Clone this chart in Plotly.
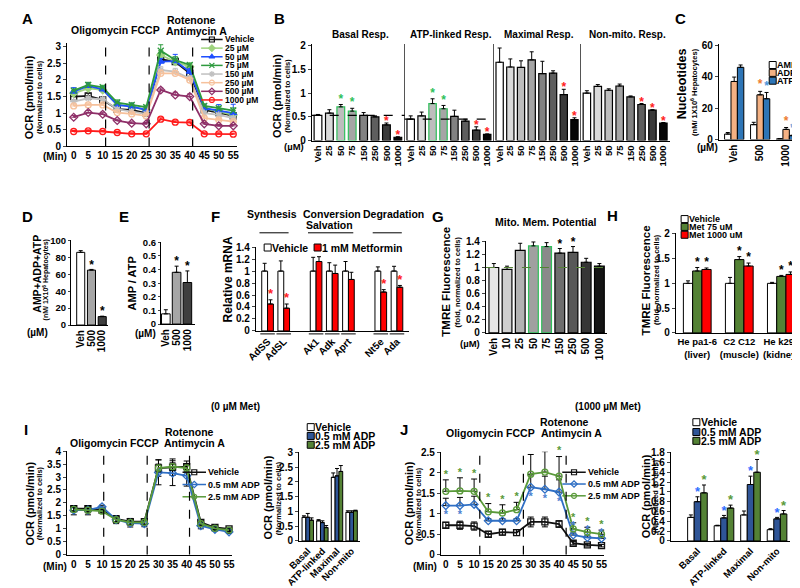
import plotly.graph_objects as go

W, H = 800, 588
FONT = "Liberation Sans, Arial, Helvetica, sans-serif"

# ======================= DATA =======================
# ---- Panel A: OCR time course, metformin doses ----
a_time = [0, 5, 10, 15, 20, 25, 30, 35, 40, 45, 50, 55]
a_injections = [11, 26, 41]
a_names = ["Vehicle", "25 µM", "50 µM", "75 µM", "150 µM", "250 µM", "500 µM", "1000 µM"]
a_vehicle = [1.50, 1.52, 1.40, 1.12, 1.10, 1.00, 2.62, 2.55, 2.20, 1.10, 1.02, 0.92]
a_25 = [1.60, 1.75, 1.70, 1.25, 1.20, 1.10, 2.75, 2.55, 2.40, 1.15, 1.05, 0.95]
a_50 = [1.65, 1.82, 1.72, 1.25, 1.20, 1.10, 2.55, 2.57, 2.25, 1.15, 1.08, 1.00]
a_75 = [1.68, 1.85, 1.78, 1.32, 1.25, 1.18, 2.88, 2.60, 2.45, 1.22, 1.15, 1.08]
a_150 = [1.35, 1.45, 1.42, 1.12, 1.05, 0.98, 2.30, 2.25, 2.05, 1.00, 0.95, 0.85]
a_250 = [1.22, 1.25, 1.25, 1.02, 0.98, 0.92, 2.20, 2.20, 2.00, 0.85, 0.80, 0.75]
a_500 = [0.88, 1.02, 0.97, 0.78, 0.70, 0.68, 1.70, 1.55, 1.50, 0.68, 0.62, 0.62]
a_1000 = [0.45, 0.47, 0.45, 0.42, 0.38, 0.38, 0.82, 0.73, 0.72, 0.38, 0.38, 0.37]
a_vehicle_err = [0.06, 0.08, 0.08, 0.06, 0.06, 0.05, 0.08, 0.10, 0.10, 0.06, 0.06, 0.05]
a_25_err = [0.06, 0.08, 0.08, 0.06, 0.06, 0.06, 0.12, 0.10, 0.08, 0.06, 0.06, 0.06]
a_50_err = [0.12, 0.10, 0.08, 0.10, 0.10, 0.08, 0.10, 0.20, 0.10, 0.12, 0.18, 0.27]
a_75_err = [0.05, 0.08, 0.06, 0.08, 0.06, 0.06, 0.18, 0.10, 0.06, 0.06, 0.06, 0.08]
a_150_err = [0.06, 0.06, 0.06, 0.05, 0.05, 0.05, 0.10, 0.10, 0.08, 0.05, 0.05, 0.05]
a_250_err = [0.05, 0.05, 0.05, 0.04, 0.04, 0.04, 0.10, 0.08, 0.06, 0.04, 0.04, 0.04]
a_500_err = [0.05, 0.06, 0.06, 0.04, 0.04, 0.04, 0.06, 0.08, 0.08, 0.04, 0.04, 0.04]
a_1000_err = [0.03, 0.03, 0.03, 0.03, 0.03, 0.03, 0.04, 0.04, 0.04, 0.03, 0.03, 0.03]

# ---- Panel B: respiration parameters ----
b_doses = ["Veh", "25", "50", "75", "150", "250", "500", "1000"]
b_titles = ["Basal Resp.", "ATP-linked Resp.", "Maximal Resp.", "Non-mito. Resp."]
b_basal = [0.53, 0.58, 0.71, 0.62, 0.53, 0.50, 0.33, 0.07]
b_basal_err = [0.02, 0.07, 0.05, 0.06, 0.06, 0.02, 0.04, 0.01]
b_atp = [0.45, 0.52, 0.78, 0.67, 0.51, 0.41, 0.22, 0.13]
b_atp_err = [0.07, 0.08, 0.10, 0.07, 0.13, 0.04, 0.07, 0.01]
b_max = [1.65, 1.55, 1.54, 1.70, 1.41, 1.42, 0.97, 0.44]
b_max_err = [0.30, 0.17, 0.14, 0.17, 0.26, 0.05, 0.11, 0.04]
b_nonmito = [1.00, 1.14, 1.06, 1.15, 0.92, 0.76, 0.64, 0.37]
b_nonmito_err = [0.05, 0.04, 0.03, 0.04, 0.02, 0.02, 0.01, 0.01]
b_green_sig = [[2, 3], [2, 3], [], []]
b_red_sig = [[6, 7], [6, 7], [6, 7], [5, 6, 7]]
b_reference_line = [True, True, False, False]

# ---- Panel C: nucleotides ----
c_groups = ["Veh", "500", "1000"]
c_amp = [3.5, 9.5, 0.5]
c_amp_err = [1.0, 1.5, 0.2]
c_adp = [37.0, 28.5, 6.5]
c_adp_err = [2.8, 2.2, 1.2]
c_atp = [46.0, 26.0, 2.5]
c_atp_err = [1.5, 4.0, 0.3]
c_adp_sig = [1, 2]
c_atp_sig = [1, 2]

# ---- Panel D: total adenylates ----
d_groups = ["Veh", "500", "1000"]
d_total = [86.0, 65.0, 10.0]
d_total_err = [2.0, 0.8, 0.5]
d_sig = [1, 2]

# ---- Panel E: AMP/ATP ----
e_groups = ["Veh", "500", "1000"]
e_ratio = [0.075, 0.38, 0.305]
e_ratio_err = [0.03, 0.045, 0.085]
e_sig = [1, 2]

# ---- Panel F: relative mRNA ----
f_pathways = ["Synthesis", "Conversion Salvation", "Degradation"]
f_pathway_genes = [["AdSS", "AdSL"], ["Ak1", "Adk", "Aprt"], ["Nt5e", "Ada"]]
f_vehicle = [1.00, 1.00, 1.00, 1.00, 1.00, 1.00, 1.00]
f_vehicle_err = [0.13, 0.17, 0.23, 0.14, 0.16, 0.07, 0.08]
f_metformin = [0.45, 0.38, 1.16, 0.96, 0.86, 0.65, 0.73]
f_metformin_err = [0.07, 0.07, 0.08, 0.14, 0.12, 0.04, 0.03]
f_sig = [0, 1, 5, 6]

# ---- Panel G: TMRE ----
g_doses = ["Veh", "10", "25", "50", "75", "150", "250", "500", "1000"]
g_tmre = [1.00, 0.97, 1.26, 1.33, 1.32, 1.22, 1.23, 1.08, 1.02]
g_tmre_err = [0.06, 0.05, 0.11, 0.06, 0.06, 0.07, 0.09, 0.06, 0.04]
g_sig = [2, 3, 4, 5, 6]
g_green_edge = [3, 4]

# ---- Panel H: TMRE in cell lines ----
h_cells = ["He pa1-6<br>(liver)", "C2 C12<br>(muscle)", "He k293<br>(kidney)"]
h_vehicle = [1.00, 1.00, 1.00]
h_vehicle_err = [0.05, 0.12, 0.02]
h_met75 = [1.25, 1.48, 1.14]
h_met75_err = [0.07, 0.06, 0.02]
h_met1000 = [1.28, 1.35, 1.18]
h_met1000_err = [0.03, 0.06, 0.05]

# ---- Panel I: 0 µM Met + ADP ----
i_time = [0, 5, 10, 15, 20, 25, 30, 35, 40, 45, 50, 55]
i_injections = [10.6, 26, 41]
i_vehicle = [1.78, 1.78, 1.72, 1.38, 1.28, 1.28, 3.35, 3.38, 3.40, 1.25, 1.05, 1.00]
i_vehicle_err = [0.08, 0.08, 0.06, 0.12, 0.12, 0.10, 0.32, 0.32, 0.22, 0.08, 0.05, 0.05]
i_adp05 = [1.72, 1.72, 1.85, 1.35, 1.22, 1.20, 3.18, 3.15, 3.05, 1.12, 0.98, 0.88]
i_adp05_err = [0.18, 0.18, 0.06, 0.15, 0.15, 0.12, 0.48, 0.48, 0.40, 0.12, 0.06, 0.06]
i_adp25 = [1.75, 1.72, 1.68, 1.35, 1.25, 1.25, 3.35, 3.40, 3.35, 1.20, 1.02, 0.95]
i_adp25_err = [0.08, 0.10, 0.06, 0.10, 0.10, 0.08, 0.15, 0.15, 0.15, 0.08, 0.05, 0.05]
i_params = ["Basal", "ATP-linked", "Maximal", "Non-mito"]
i_bar_vehicle = [0.80, 0.68, 2.15, 0.97]
i_bar_vehicle_err = [0.05, 0.04, 0.15, 0.05]
i_bar_adp05 = [0.80, 0.62, 2.20, 0.97]
i_bar_adp05_err = [0.13, 0.06, 0.25, 0.05]
i_bar_adp25 = [0.70, 0.45, 2.35, 1.02]
i_bar_adp25_err = [0.08, 0.07, 0.20, 0.02]

# ---- Panel J: 1000 µM Met + ADP ----
j_time = [0, 5, 10, 15, 20, 25, 30, 35, 40, 45, 50, 55]
j_injections = [12, 27.4, 42.5]
j_vehicle = [0.72, 0.72, 0.70, 0.50, 0.55, 0.54, 0.80, 0.80, 0.75, 0.28, 0.24, 0.22]
j_vehicle_err = [0.07, 0.10, 0.10, 0.07, 0.07, 0.07, 0.12, 0.12, 0.08, 0.04, 0.03, 0.03]
j_adp05 = [1.20, 1.20, 1.23, 0.83, 0.83, 0.83, 1.65, 1.60, 1.53, 0.48, 0.42, 0.40]
j_adp05_err = [0.18, 0.20, 0.20, 0.05, 0.05, 0.05, 0.30, 0.32, 0.30, 0.05, 0.04, 0.04]
j_adp25 = [1.55, 1.56, 1.55, 1.05, 1.02, 1.10, 1.97, 2.02, 1.92, 0.63, 0.55, 0.50]
j_adp25_err = [0.28, 0.32, 0.30, 0.20, 0.20, 0.18, 0.48, 0.50, 0.48, 0.15, 0.12, 0.10]
j_adp05_sig = ["below", "below", "", "", "", "", "below", "below", "below", "above", "above", "above"]
j_adp25_sig = [True] * 12
j_params = ["Basal", "ATP-linked", "Maximal", "Non-mito"]
j_bar_vehicle = [0.48, 0.31, 0.53, 0.23]
j_bar_vehicle_err = [0.05, 0.01, 0.08, 0.02]
j_bar_adp05 = [0.80, 0.47, 1.15, 0.45]
j_bar_adp05_err = [0.10, 0.05, 0.17, 0.03]
j_bar_adp25 = [0.98, 0.67, 1.40, 0.55]
j_bar_adp25_err = [0.16, 0.06, 0.26, 0.07]

# ======================= FIGURE =======================
fig = go.Figure()
layout = dict(
    width=W, height=H, margin=dict(l=0, r=0, t=0, b=0),
    paper_bgcolor="white", plot_bgcolor="rgba(0,0,0,0)",
    showlegend=False, hovermode=False, barmode="overlay",
    font=dict(family=FONT, size=10, color="black", weight="bold"),
)
annotations = []
shapes = []
PXU = {}   # pixels per y-unit for each y axis


def keys(n):
    s = "" if n == 1 else str(n)
    return "xaxis" + s, "yaxis" + s, "x" + s, "y" + s


def add_axes(n, left, right, top, bottom, xr, yr, dtick=None, xvals=None, xtext=None,
             xangle=0, xfs=10, yfs=10, ylabels=True, ylinecolor="black", ticklen=3):
    xk, yk, xa, ya = keys(n)
    layout[xk] = dict(domain=[left / W, right / W], range=xr, anchor=ya, showline=True,
                      linecolor="black", linewidth=1, showgrid=False, zeroline=False,
                      ticks="", tickangle=xangle, fixedrange=True,
                      tickfont=dict(family=FONT, size=xfs, color="black", weight="bold"))
    if xvals is not None:
        layout[xk].update(tickmode="array", tickvals=xvals, ticktext=xtext)
    layout[yk] = dict(domain=[1 - bottom / H, 1 - top / H], range=yr, anchor=xa, showline=True,
                      linecolor=ylinecolor, linewidth=1, showgrid=False, zeroline=False,
                      ticks="outside" if ylabels else "", ticklen=ticklen, fixedrange=True,
                      showticklabels=ylabels,
                      tickfont=dict(family=FONT, size=yfs, color="black", weight="bold"))
    if dtick is not None:
        layout[yk].update(tick0=0, dtick=dtick)
    PXU[ya] = (bottom - top) / (yr[1] - yr[0])
    return xa, ya


def ann(text, x, y, size=10, xanchor="center", yanchor="middle", angle=0, color="black"):
    annotations.append(dict(text=text, x=x / W, y=1 - y / H, xref="paper", yref="paper",
                            xanchor=xanchor, yanchor=yanchor, showarrow=False, textangle=angle,
                            borderpad=0, borderwidth=0,
                            font=dict(family=FONT, size=size, color=color, weight="bold")))


def up_err(err, color="black", width=2, thickness=1):
    return dict(type="data", array=err, arrayminus=[0] * len(err), symmetric=False,
                color=color, thickness=thickness, width=width)


def sym_err(err, color="black", width=2, thickness=1):
    return dict(type="data", array=err, symmetric=True, color=color, thickness=thickness, width=width)


def stars(xa, ya, xs, tops, color, size=12, gap_px=3.0):
    """Significance asterisks placed gap_px above the given data heights."""
    ys = [t + gap_px / PXU[ya] for t in tops]
    fig.add_trace(go.Scatter(x=xs, y=ys, mode="text", text=["*"] * len(xs),
                             textfont=dict(family=FONT, size=size, color=color, weight="bold"),
                             textposition="middle center", xaxis=xa, yaxis=ya, cliponaxis=False))


def vlines(xa, ya, xs, top):
    for v in xs:
        shapes.append(dict(type="line", xref=xa, yref=ya, x0=v, x1=v, y0=0, y1=top,
                           line=dict(color="black", width=1.2, dash="dash")))


def grouped_bars(xa, ya, series, group_w):
    n = len(series)
    w = group_w / n
    for k, (vals, errs, fill) in enumerate(series):
        off = -group_w / 2 + k * w
        fig.add_trace(go.Bar(x=list(range(len(vals))), y=vals, width=w, offset=off,
                             marker=dict(color=fill, line=dict(color="black", width=1)),
                             error_y=up_err(errs), xaxis=xa, yaxis=ya))
    return w


# canvas axis (for hand-built legends)
layout["xaxis20"] = dict(domain=[0, 1], range=[0, W], visible=False, fixedrange=True, anchor="y20")
layout["yaxis20"] = dict(domain=[0, 1], range=[H, 0], visible=False, fixedrange=True, anchor="x20")


def leg_line(x0, y, seglen, name, color, symbol, msize, fs, lw=1.5, mlw=1.2):
    fig.add_trace(go.Scatter(x=[x0, x0 + seglen], y=[y, y], mode="lines",
                             line=dict(color=color, width=lw), xaxis="x20", yaxis="y20", cliponaxis=False))
    fig.add_trace(go.Scatter(x=[x0 + seglen / 2], y=[y], mode="markers",
                             marker=dict(symbol=symbol, size=msize, color=color,
                                         line=dict(color=color, width=mlw)),
                             xaxis="x20", yaxis="y20", cliponaxis=False))
    ann(name, x0 + seglen + 2, y, size=fs, xanchor="left")


def leg_box(x, y, name, fill, fs, size=7):
    fig.add_trace(go.Scatter(x=[x], y=[y], mode="markers",
                             marker=dict(symbol="square", size=size, color=fill,
                                         line=dict(color="black", width=1)),
                             xaxis="x20", yaxis="y20", cliponaxis=False))
    ann(name, x + size / 2 + 1, y, size=fs, xanchor="left")


# ---------------- Panel A ----------------
xa, ya = add_axes(1, 46, 220, 31, 136, [-2.3, 56.4], [0, 3.1], dtick=0.5,
                  xvals=a_time, xtext=[str(t) for t in a_time])
a_series = [
    (a_names[0], a_vehicle, a_vehicle_err, "#111111", "square-open"),
    (a_names[1], a_25, a_25_err, "#9fd37f", "diamond"),
    (a_names[2], a_50, a_50_err, "#1f4fff", "triangle-up"),
    (a_names[3], a_75, a_75_err, "#2e9a3e", "x-thin"),
    (a_names[4], a_150, a_150_err, "#c0c0c0", "asterisk"),
    (a_names[5], a_250, a_250_err, "#f6c19c", "circle-open"),
    (a_names[6], a_500, a_500_err, "#8e2f68", "diamond-open"),
    (a_names[7], a_1000, a_1000_err, "#ff1a1a", "circle-open"),
]
for name, vals, errs, col, sym in a_series:
    fig.add_trace(go.Scatter(x=a_time, y=vals, mode="lines+markers", name=name,
                             line=dict(color=col, width=1.8),
                             marker=dict(symbol=sym, size=6, color=col, line=dict(color=col, width=1.3)),
                             error_y=up_err(errs, color=col, width=2.5),
                             xaxis=xa, yaxis=ya, cliponaxis=False))
vlines(xa, ya, a_injections, 3.1)
ann("Oligomycin FCCP", 96, 17, 10.5)
ann("Rotenone", 173, 7, 10.5)
ann("Antimycin A", 178, 18, 10.5)
ann("(Min)", 34, 146, 10)
ann("OCR (pmol/min)", 8, 86, 11, angle=-90)
ann("(Normalized to cells)", 18, 86, 7.5, angle=-90)
for k, (name, vals, errs, col, sym) in enumerate(a_series):
    leg_line(183, 27 + k * 8.8, 22, name, col, sym, 5, 8.5)

# ---------------- Panel B ----------------
b_bounds = [(296, 391), (391, 482), (482, 571), (571, 662)]
b_vals = [b_basal, b_atp, b_max, b_nonmito]
b_errs = [b_basal_err, b_atp_err, b_max_err, b_nonmito_err]
b_fills = ["#ffffff", "#dadada", "#bdbdbd", "#a5a5a5", "#828282", "#5e5e5e", "#3a3a3a", "#050505"]
for p in range(4):
    n = 2 + p
    xa, ya = add_axes(n, b_bounds[p][0], b_bounds[p][1], 31.8, 130, [-0.55, 7.6], [0, 2.03],
                      dtick=0.5, xvals=list(range(8)), xtext=b_doses, xangle=-90, xfs=9.5, yfs=10,
                      ylabels=(p == 0), ylinecolor="black" if p == 0 else "#555555")
    edges = ["#2fbf5a" if i in b_green_sig[p] else "black" for i in range(8)]
    fig.add_trace(go.Bar(x=list(range(8)), y=b_vals[p], width=0.68,
                         marker=dict(color=b_fills, line=dict(color=edges, width=1.2)),
                         error_y=up_err(b_errs[p]), xaxis=xa, yaxis=ya))
    if b_green_sig[p]:
        stars(xa, ya, b_green_sig[p], [b_vals[p][i] + b_errs[p][i] for i in b_green_sig[p]],
              "#2fbf5a", 12, 5)
    stars(xa, ya, b_red_sig[p], [b_vals[p][i] + b_errs[p][i] for i in b_red_sig[p]], "#ff2020", 12, 1)
    if b_reference_line[p]:
        shapes.append(dict(type="line", xref=xa + " domain", yref=ya, x0=0, x1=1,
                           y0=b_vals[p][0], y1=b_vals[p][0],
                           line=dict(color="black", width=1.2, dash="dash")))
    ann(b_titles[p], (b_bounds[p][0] + b_bounds[p][1]) / 2 + 2, 22, 10)
ann("(µM)", 278, 136, 9.5)
ann("OCR (pmol/min)", 261, 84, 11, angle=-90)
ann("(Normalized to cells)", 271, 84, 7.5, angle=-90)

# ---------------- Panel C ----------------
xa, ya = add_axes(6, 712, 790, 32, 129, [-0.59, 2.35], [0, 60.6], dtick=20,
                  xvals=[0, 1, 2], xtext=c_groups, xangle=-90, xfs=10, yfs=10)
cw = grouped_bars(xa, ya, [(c_amp, c_amp_err, "#ffffff"), (c_adp, c_adp_err, "#f4b183"),
                           (c_atp, c_atp_err, "#2e75b6")], 0.74)
stars(xa, ya, c_adp_sig, [c_adp[i] + c_adp_err[i] for i in c_adp_sig], "#ed7d31", 12, 6)
stars(xa, ya, [i + cw for i in c_atp_sig], [c_atp[i] + c_atp_err[i] for i in c_atp_sig], "#4e95d9", 12, 6)
ann("(µM)", 700, 137, 10)
ann("Nucleotides", 674, 72, 12.5, angle=-90)
ann("(nM/ 1X10<sup>6</sup> Hepatocytes)", 686, 80, 7.5, angle=-90)
leg_box(767, 53, "AMP", "#ffffff", 9)
leg_box(767, 61, "ADP", "#f4b183", 9)
leg_box(767, 69, "ATP", "#2e75b6", 9)

# ---------------- Panel D ----------------
xa, ya = add_axes(7, 50, 88, 231, 318, [-0.91, 2.55], [0, 101], dtick=20,
                  xvals=[0, 1, 2], xtext=d_groups, xangle=-90, xfs=10, yfs=9.5, ticklen=2)
fig.add_trace(go.Bar(x=[0, 1, 2], y=d_total, width=0.75,
                     marker=dict(color=["#ffffff", "#a6a6a6", "#3f3f3f"], line=dict(color="black", width=1)),
                     error_y=up_err(d_total_err), xaxis=xa, yaxis=ya))
stars(xa, ya, d_sig, [d_total[i] + d_total_err[i] for i in d_sig], "black", 12, 4)
ann("(µM)", 16, 326, 10)
ann("AMP+ADP+ATP", 15, 266, 10.5, angle=-90)
ann("(nM/ 1X10<sup>6</sup> Hepatocytes)", 25, 272, 7, angle=-90)

# ---------------- Panel E ----------------
xa, ya = add_axes(8, 142, 177, 233, 317, [-0.45, 2.73], [0, 0.605], dtick=0.1,
                  xvals=[0, 1, 2], xtext=e_groups, xangle=-90, xfs=10, yfs=9.5, ticklen=2)
fig.add_trace(go.Bar(x=[0, 1, 2], y=e_ratio, width=0.8,
                     marker=dict(color=["#ffffff", "#a6a6a6", "#3f3f3f"], line=dict(color="black", width=1)),
                     error_y=up_err(e_ratio_err), xaxis=xa, yaxis=ya))
stars(xa, ya, e_sig, [e_ratio[i] + e_ratio_err[i] for i in e_sig], "black", 12, 4)
ann("(µM)", 126, 327, 10)
ann("AMP / ATP", 112, 276, 11, angle=-90)

# ---------------- Panel F ----------------
f_genes, f_pos, f_group_span = [], [], []
cursor = 0
for genes in f_pathway_genes:
    start = cursor
    for g in genes:
        f_genes.append(g)
        f_pos.append(cursor)
        cursor += 1
    f_group_span.append((start, cursor - 1))
    cursor += 1
xa, ya = add_axes(9, 239, 395, 238, 324, [-0.72, 8.72], [0, 1.41], dtick=0.2,
                  xvals=f_pos, xtext=f_genes, xangle=-45, xfs=10, yfs=10)
fw = 0.36
fig.add_trace(go.Bar(x=f_pos, y=f_vehicle, width=fw, offset=-fw,
                     marker=dict(color="#ffffff", line=dict(color="black", width=1)),
                     error_y=up_err(f_vehicle_err), xaxis=xa, yaxis=ya))
fig.add_trace(go.Bar(x=f_pos, y=f_metformin, width=fw, offset=0,
                     marker=dict(color="#ff0000", line=dict(color="black", width=1)),
                     error_y=up_err(f_metformin_err), xaxis=xa, yaxis=ya))
stars(xa, ya, [f_pos[i] + fw / 2 for i in f_sig],
      [f_metformin[i] + f_metformin_err[i] for i in f_sig], "#ff2020", 13, 5)
for p in f_pos:
    shapes.append(dict(type="line", xref=xa, yref=ya + " domain", x0=p - 0.45, x1=p + 0.45,
                       y0=-0.035, y1=-0.035, line=dict(color="black", width=1)))
for (s, e) in f_group_span:
    shapes.append(dict(type="line", xref=xa, yref="paper", x0=s - 0.5, x1=e + 0.3,
                       y0=1 - 224 / H, y1=1 - 224 / H, line=dict(color="black", width=1)))
syn, conv, deg = f_pathways
ann(syn, 255, 205, 10.5)
ann(conv.split(" ")[0], 317, 205, 10.5)
ann(conv.split(" ")[1], 290, 216, 10.5, xanchor="left")
ann(deg, 380, 205, 10.5)
ann("Relative mRNA", 210, 272, 12, angle=-90)
leg_box(251, 239, "Vehicle", "#ffffff", 10.5)
leg_box(302, 239, "1 mM Metformin", "#ff0000", 10.5)

# ---------------- Panel G ----------------
xa, ya = add_axes(10, 474, 598, 232, 326, [-0.6, 8.6], [0, 1.41], dtick=0.2,
                  xvals=list(range(len(g_doses))), xtext=g_doses, xangle=-90, xfs=10, yfs=10)
g_fills = ["#e6e6e6", "#cfcfcf", "#b2b2b2", "#a0a0a0", "#8a8a8a", "#6e6e6e", "#585858", "#363636", "#141414"]
g_edges = ["#2fbf5a" if i in g_green_edge else "black" for i in range(len(g_doses))]
fig.add_trace(go.Bar(x=list(range(len(g_doses))), y=g_tmre, width=0.74,
                     marker=dict(color=g_fills, line=dict(color=g_edges, width=1.2)),
                     error_y=up_err(g_tmre_err), xaxis=xa, yaxis=ya))
stars(xa, ya, g_sig, [g_tmre[i] + g_tmre_err[i] for i in g_sig], "black", 12, 4)
shapes.append(dict(type="line", xref=xa + " domain", yref=ya, x0=0, x1=1, y0=g_tmre[0], y1=g_tmre[0],
                   line=dict(color="#548235", width=1.2, dash="dash")))
ann("Mito. Mem. Potential", 535, 213, 10.5)
ann("(µM)", 458, 337, 9.5)
ann("TMRE Fluorescence", 433, 274, 11.5, angle=-90)
ann("(fold, normalized to cells)", 445, 274, 7.5, angle=-90)

# ---------------- Panel H ----------------
xa, ya = add_axes(11, 668, 793, 224, 326, [-0.51, 2.4], [0, 2.02], dtick=0.5,
                  xvals=[0, 1, 2], xtext=h_cells, xangle=0, xfs=9.5, yfs=10)
hw = grouped_bars(xa, ya, [(h_vehicle, h_vehicle_err, "#ffffff"), (h_met75, h_met75_err, "#548235"),
                           (h_met1000, h_met1000_err, "#ff0000")], 0.66)
stars(xa, ya, [0, 1, 2], [h_met75[i] + h_met75_err[i] for i in range(3)], "black", 12, 5)
stars(xa, ya, [i + hw for i in range(3)], [h_met1000[i] + h_met1000_err[i] for i in range(3)], "black", 12, 5)
ann("TMRE Fluorescence", 637, 272, 11.5, angle=-90)
ann("(fold, normalized to cells)", 649, 272, 7.5, angle=-90)
leg_box(677, 210, "Vehicle", "#ffffff", 9)
leg_box(677, 218, "Met 75 uM", "#548235", 9)
leg_box(677, 226, "Met 1000 uM", "#ff0000", 9)

# ---------------- Panel I ----------------
adp_series_style = [("Vehicle", "#111111", "square-open"),
                    ("0.5 mM ADP", "#2f6fc4", "diamond-open"),
                    ("2.5 mM ADP", "#5a9a3a", "circle-open")]
xa, ya = add_axes(12, 46, 215, 446, 552, [-2.4, 56.2], [0, 4.02], dtick=0.5,
                  xvals=i_time, xtext=[str(t) for t in i_time])
for (name, col, sym), vals, errs in zip(adp_series_style, [i_vehicle, i_adp05, i_adp25],
                                        [i_vehicle_err, i_adp05_err, i_adp25_err]):
    fig.add_trace(go.Scatter(x=i_time, y=vals, mode="lines+markers", name=name,
                             line=dict(color=col, width=1.8),
                             marker=dict(symbol=sym, size=6, color=col, line=dict(color=col, width=1.3)),
                             error_y=sym_err(errs, color="black", width=3),
                             xaxis=xa, yaxis=ya, cliponaxis=False))
vlines(xa, ya, i_injections, 4.02)
ann("(0 µM Met)", 218, 401, 10)
ann("Oligomycin FCCP", 95, 438, 10.5)
ann("Rotenone", 171, 427, 10.5)
ann("Antimycin A", 176, 438, 10.5)
ann("(Min)", 34, 564, 10)
ann("OCR (pmol/min)", 8, 500, 11, angle=-90)
ann("(Normalized to cells)", 18, 500, 7.5, angle=-90)
for k, (name, col, sym) in enumerate(adp_series_style):
    leg_line(164, 468 + k * 12.5, 24, name, col, sym, 5, 9)

xa, ya = add_axes(13, 283, 345, 447, 538, [-0.6, 3.55], [0, 3.02], dtick=0.5,
                  xvals=[0, 1, 2, 3], xtext=i_params, xangle=-45, xfs=9.5, yfs=10)
grouped_bars(xa, ya, [(i_bar_vehicle, i_bar_vehicle_err, "#ffffff"),
                      (i_bar_adp05, i_bar_adp05_err, "#2f5597"),
                      (i_bar_adp25, i_bar_adp25_err, "#548235")], 0.78)
ann("OCR (pmol/min)", 251, 494, 11, angle=-90)
ann("(Normalized to cells)", 262, 494, 7.5, angle=-90)
leg_box(295, 422, "Vehicle", "#ffffff", 10.5)
leg_box(295, 431, "0.5 mM ADP", "#2f5597", 10.5)
leg_box(295, 440, "2.5 mM ADP", "#548235", 10.5)

# ---------------- Panel J ----------------
xa, ya = add_axes(14, 428, 595, 447, 552, [-1.73, 56.0], [0, 2.52], dtick=0.5,
                  xvals=j_time, xtext=[str(t) for t in j_time])
for (name, col, sym), vals, errs in zip(adp_series_style, [j_vehicle, j_adp05, j_adp25],
                                        [j_vehicle_err, j_adp05_err, j_adp25_err]):
    err = sym_err(errs, color="black", width=3) if name == "Vehicle" else up_err(errs, color="black", width=3)
    fig.add_trace(go.Scatter(x=j_time, y=vals, mode="lines+markers", name=name,
                             line=dict(color=col, width=1.8),
                             marker=dict(symbol=sym, size=6, color=col, line=dict(color=col, width=1.3)),
                             error_y=err, xaxis=xa, yaxis=ya, cliponaxis=False))
vlines(xa, ya, j_injections, 2.52)
g_idx = [i for i, s in enumerate(j_adp25_sig) if s]
stars(xa, ya, [j_time[i] for i in g_idx], [j_adp25[i] + j_adp25_err[i] for i in g_idx], "#5a9a3a", 11, 5)
b_idx = [i for i, s in enumerate(j_adp05_sig) if s]
b_top = [j_adp05[i] - 0.24 if j_adp05_sig[i] == "below" else j_adp25[i] + j_adp25_err[i] - 0.08
         for i in b_idx]
stars(xa, ya, [j_time[i] for i in b_idx], b_top, "#4a7fd0", 11, 0)
ann("(1000 µM Met)", 599, 401, 10)
ann("Oligomycin FCCP", 479, 428, 10.5)
ann("Rotenone", 554, 417, 10.5)
ann("Antimycin A", 561, 428, 10.5)
ann("(Min)", 412, 564, 10)
ann("OCR (pmol/min)", 395, 500, 11, angle=-90)
ann("(Normalized to cells)", 405, 500, 7.5, angle=-90)
for k, (name, col, sym) in enumerate(adp_series_style):
    leg_line(552, 468 + k * 12, 24, name, col, sym, 5, 9)

xa, ya = add_axes(15, 663, 785, 447, 538, [-1.0, 3.5], [0, 1.82], dtick=0.2,
                  xvals=[0, 1, 2, 3], xtext=j_params, xangle=-45, xfs=9.5, yfs=10)
jw = grouped_bars(xa, ya, [(j_bar_vehicle, j_bar_vehicle_err, "#ffffff"),
                           (j_bar_adp05, j_bar_adp05_err, "#2f5597"),
                           (j_bar_adp25, j_bar_adp25_err, "#548235")], 0.74)
stars(xa, ya, list(range(4)), [j_bar_adp05[i] + j_bar_adp05_err[i] for i in range(4)], "#2f6fff", 13, 4)
stars(xa, ya, [i + jw for i in range(4)], [j_bar_adp25[i] + j_bar_adp25_err[i] for i in range(4)], "#5a9a3a", 13, 4)
ann("OCR (pmol/min)", 637, 492, 11, angle=-90)
ann("(Normalized to cells)", 648, 492, 7.5, angle=-90)
leg_box(689, 417, "Vehicle", "#ffffff", 10.5)
leg_box(689, 427, "0.5 mM ADP", "#2f5597", 10.5)
leg_box(689, 436, "2.5 mM ADP", "#548235", 10.5)

# ---------------- panel letters ----------------
for letter, x, y in [("A", 6, 6), ("B", 263, 6), ("C", 673, 6), ("D", 6, 207), ("E", 104, 207),
                     ("F", 198, 207), ("G", 425, 207), ("H", 603, 206), ("I", 4, 424), ("J", 390, 424)]:
    ann(letter, x, y, 15)

layout["annotations"] = annotations
layout["shapes"] = shapes
fig.update_layout(**layout)
fig.write_html("out.html")
